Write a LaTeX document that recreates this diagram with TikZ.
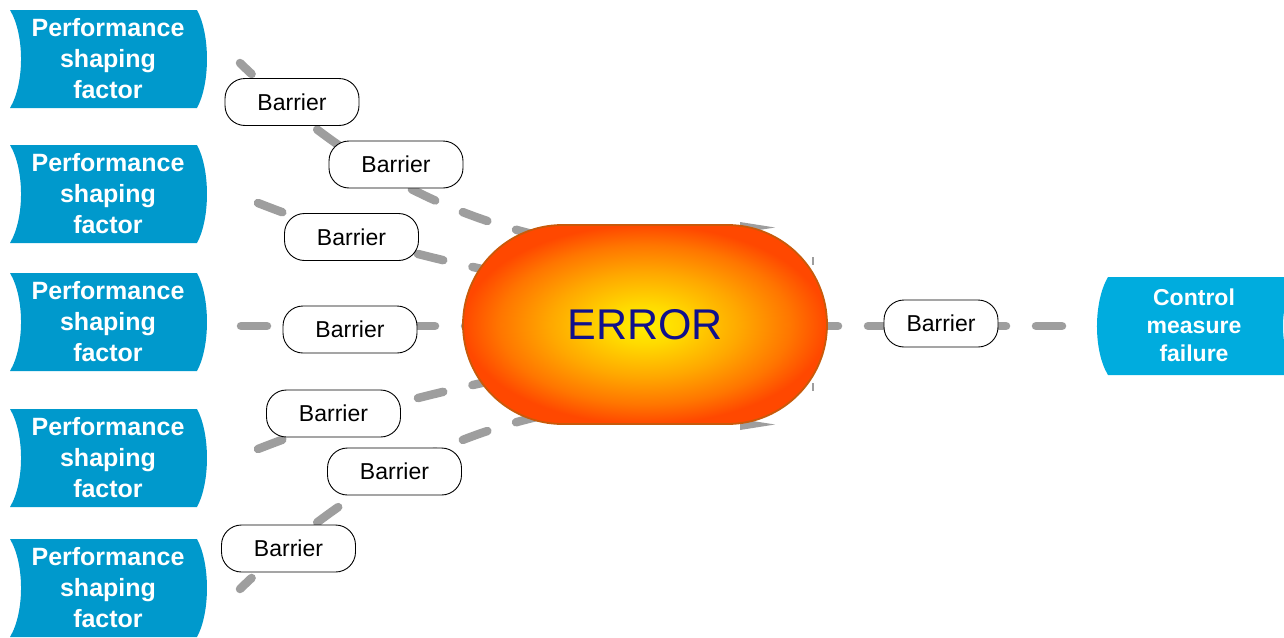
\documentclass[tikz,border=0pt]{standalone}
\usepackage{fontspec}
\setmainfont{Liberation Sans}
\usetikzlibrary{shapes.misc}

\definecolor{psfblue}{RGB}{0,153,204}
\definecolor{cmfblue}{RGB}{0,172,222}
\definecolor{linegray}{RGB}{158,158,158}
\definecolor{errtext}{RGB}{16,16,140}
\definecolor{errline}{RGB}{200,90,10}
\definecolor{errY}{RGB}{255,240,0}
\definecolor{errY2}{RGB}{255,218,0}
\definecolor{errO}{RGB}{255,168,0}
\definecolor{errO2}{RGB}{255,118,0}
\definecolor{errR}{RGB}{255,72,0}

% warm glow for the central error shape
\pgfdeclareradialshading{errglow}{\pgfpoint{0bp}{0bp}}{color(0bp)=(errY); color(5bp)=(errY2); color(13bp)=(errO); color(20bp)=(errO2); color(25bp)=(errR); color(50bp)=(errR)}

\tikzset{
  conn/.style={draw=linegray, line width=8.5pt, line cap=round, dash pattern=on 26pt off 30pt},
  barrier/.style={draw=black, line width=0.9pt, fill=white, rounded corners=20pt,
    minimum width=134pt, minimum height=47pt, inner sep=0pt, font=\fontsize{23}{27}\selectfont},
  psftext/.style={text=white, align=center, inner sep=0pt, font=\bfseries\fontsize{25}{31}\selectfont},
  cmftext/.style={text=white, align=center, inner sep=0pt, font=\bfseries\fontsize{23}{28}\selectfont},
  psfshape/.pic={
    \fill[psfblue] (10,0) -- (197,0) .. controls (210.3,24.5) and (210.3,73.5) .. (197,98)
      -- (10,98) .. controls (24.7,73.5) and (24.7,24.5) .. (10,0);
  },
  errmark/.style={fill=linegray},
}

\begin{document}
\begin{tikzpicture}[x=1pt,y=-1pt]
\useasboundingbox (0,0) rectangle (1284,637);
\clip (0,0) rectangle (1284,637);

% factor shapes on the left
\foreach \t/\n in {10/1,145/2,273/3,409/4,539/5}{
  \pic at (0,\t) {psfshape};
  \node[psftext] (psf\n) at (108,\t+49) {Performance\\shaping\\factor};
}

% control measure failure shape on the right
\fill[cmfblue] (1108,277) -- (1296,277) .. controls (1278.7,302) and (1278.7,351) .. (1296,375)
  -- (1108,375) .. controls (1093.3,351) and (1093.3,302) .. (1108,277);
\node[cmftext] (cmf) at (1194,325) {Control\\measure\\failure};

% connector end points
\coordinate (s1) at (240,63);  \coordinate (e1) at (560,240);
\coordinate (s2) at (258,203); \coordinate (e2) at (560,285);
\coordinate (s3) at (241,326); \coordinate (e3) at (560,326);
\coordinate (s4) at (258,449); \coordinate (e4) at (560,367);
\coordinate (s5) at (240,589); \coordinate (e5) at (560,412);
\coordinate (s6) at (812,326); \coordinate (e6) at (1063,326);

% dashed connectors (behind everything)
\draw[conn, dash phase=10pt] (s1) .. controls (330,150) and (430,215) .. (e1);
\draw[conn] (s2) .. controls (340,235) and (420,258) .. (e2);
\draw[conn] (s3) -- (e3);
\draw[conn] (s4) .. controls (340,417) and (420,394) .. (e4);
\draw[conn, dash phase=10pt] (s5) .. controls (330,502) and (430,437) .. (e5);
\draw[conn] (s6) -- (e6);

% connector tips peeking out behind the error shape
\fill[errmark] (740,222) -- (775,227.5) -- (740,233) -- cycle;
\fill[errmark] (740,430) -- (775,424.5) -- (740,419) -- cycle;
\draw[linegray, line width=1.4pt] (813,257) -- (813,265);
\draw[linegray, line width=1.4pt] (813,383) -- (813,391);

% central error shape
\node[rounded rectangle, minimum width=364pt, minimum height=199pt, inner sep=0pt,
  shading=errglow, draw=errline, line width=1.8pt, text=errtext,
  font=\fontsize{43}{50}\selectfont] (err) at (645,324.5) {ERROR};

% barriers
\node[barrier] (b1) at (292,102) {Barrier};
\node[barrier] (b2) at (396,164.5) {Barrier};
\node[barrier] (b3) at (351.5,237) {Barrier};
\node[barrier] (b4) at (350,329.5) {Barrier};
\node[barrier] (b5) at (333.5,413.5) {Barrier};
\node[barrier] (b6) at (394.5,471.5) {Barrier};
\node[barrier] (b7) at (288.5,548.5) {Barrier};
\node[barrier, minimum width=114pt] (b8) at (941,323.5) {Barrier};
\end{tikzpicture}
\end{document}
